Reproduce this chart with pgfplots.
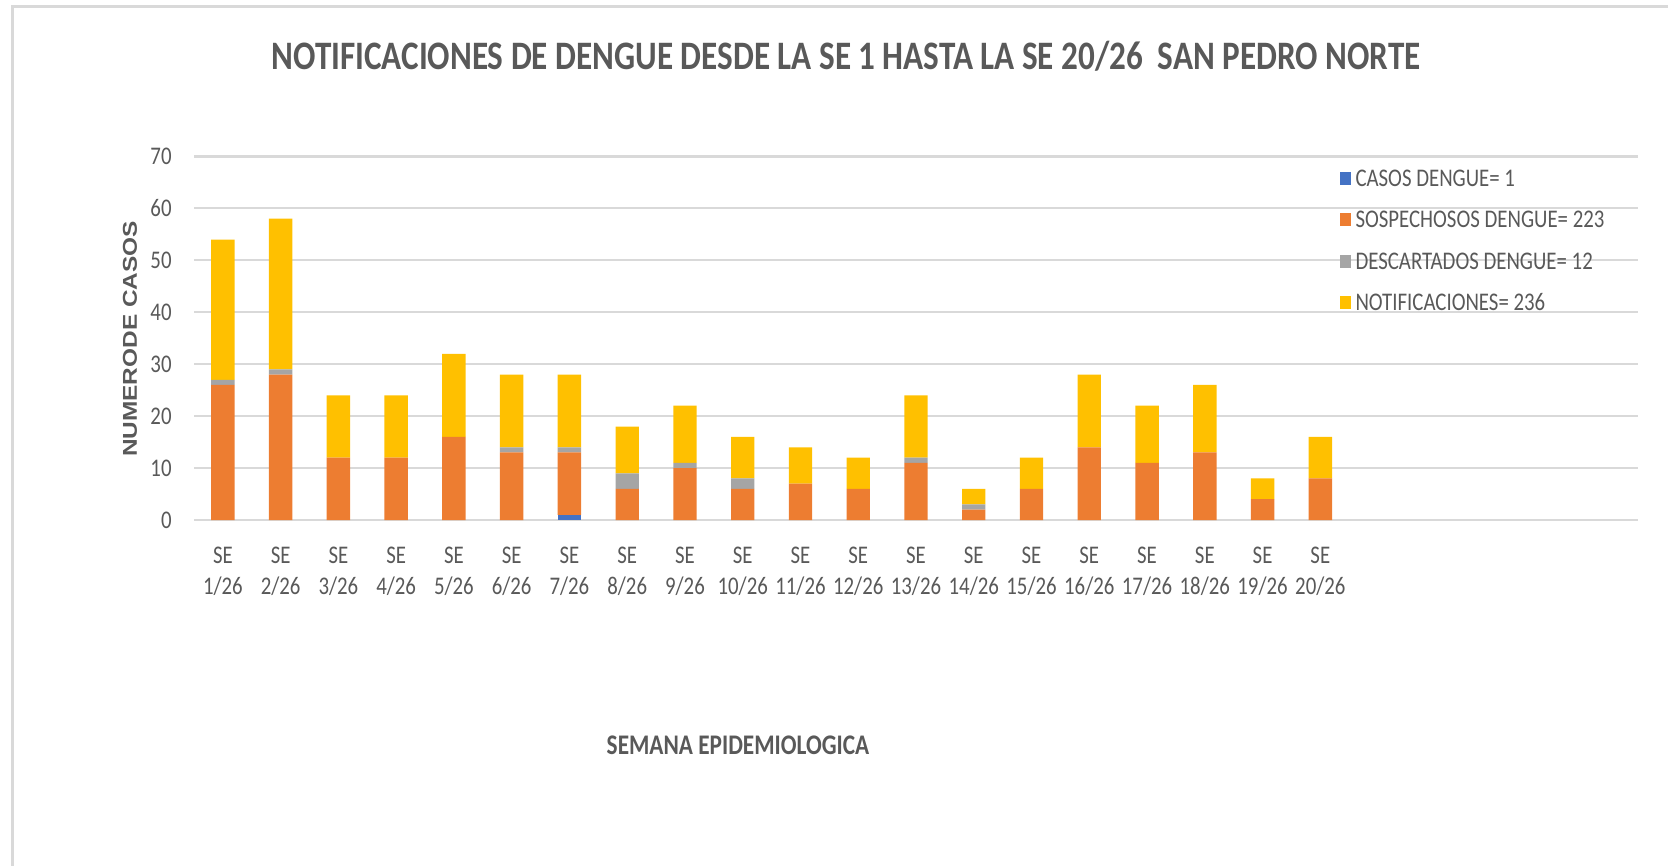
\documentclass[border=0pt]{standalone}
\usepackage{graphicx}
\usepackage{pgfplots}
\pgfplotsset{compat=1.18}
\usepackage{fontspec}
\setmainfont{Carlito}[FakeStretch=0.82]
\newfontfamily\arialfont{Liberation Sans}
\definecolor{cblue}{HTML}{4472C4}
\definecolor{corange}{HTML}{ED7D31}
\definecolor{cgray}{HTML}{A5A5A5}
\definecolor{cyellow}{HTML}{FFC000}
\definecolor{txt}{HTML}{595959}
\definecolor{gridc}{HTML}{D9D9D9}
\begin{document}
\begin{tikzpicture}
\path[use as bounding box] (0,0) rectangle (834pt,-433pt);
\draw[gridc, line width=1.5pt] (6pt,-440pt) -- (6pt,-3.5pt) -- (840pt,-3.5pt);
\begin{axis}[
  at={(97pt,-260pt)}, anchor=south west,
  scale only axis, width=722pt, height=181.8pt,
  ybar stacked, bar width=11.7pt,
  xmin=-0.5, xmax=24.5, ymin=0, ymax=70,
  ytick={0,10,...,70}, xtick={0,...,19},
  xticklabels={{SE\\1/26},{SE\\2/26},{SE\\3/26},{SE\\4/26},{SE\\5/26},{SE\\6/26},{SE\\7/26},{SE\\8/26},{SE\\9/26},{SE\\10/26},{SE\\11/26},{SE\\12/26},{SE\\13/26},{SE\\14/26},{SE\\15/26},{SE\\16/26},{SE\\17/26},{SE\\18/26},{SE\\19/26},{SE\\20/26}},
  axis line style={draw=none},
  major tick length=0pt,
  ymajorgrids, major grid style={draw=gridc, line width=1.1pt},
  tick label style={font=\fontsize{12.7}{15.5}\selectfont, text=txt},
  xticklabel style={align=center, inner sep=0pt, anchor=north, yshift=-13.5pt},
  yticklabel style={anchor=east, inner sep=0pt, xshift=-11pt},
  /pgf/number format/assume math mode=true,
  legend cell align=left,
  legend style={at={(0.793,0.9626)}, anchor=north west, draw=none, fill=none,
    inner sep=0pt, row sep=12.7pt, column sep=2.5pt,
    font=\fontsize{12.7}{15.5}\selectfont, text=txt,
    nodes={inner sep=0pt, text height=8pt, text depth=0pt}},
  legend image code/.code={\fill[#1] (0pt,-3.25pt) rectangle (5.5pt,3.25pt);},
]
\addplot[fill=cblue, draw=none] coordinates {(0,0) (1,0) (2,0) (3,0) (4,0) (5,0) (6,1) (7,0) (8,0) (9,0) (10,0) (11,0) (12,0) (13,0) (14,0) (15,0) (16,0) (17,0) (18,0) (19,0)};
\addplot[fill=corange, draw=none] coordinates {(0,26) (1,28) (2,12) (3,12) (4,16) (5,13) (6,12) (7,6) (8,10) (9,6) (10,7) (11,6) (12,11) (13,2) (14,6) (15,14) (16,11) (17,13) (18,4) (19,8)};
\addplot[fill=cgray, draw=none] coordinates {(0,1) (1,1) (2,0) (3,0) (4,0) (5,1) (6,1) (7,3) (8,1) (9,2) (10,0) (11,0) (12,1) (13,1) (14,0) (15,0) (16,0) (17,0) (18,0) (19,0)};
\addplot[fill=cyellow, draw=none] coordinates {(0,27) (1,29) (2,12) (3,12) (4,16) (5,14) (6,14) (7,9) (8,11) (9,8) (10,7) (11,6) (12,12) (13,3) (14,6) (15,14) (16,11) (17,13) (18,4) (19,8)};
\legend{CASOS DENGUE= 1, SOSPECHOSOS DENGUE= 223, DESCARTADOS DENGUE= 12, NOTIFICACIONES= 236}
\end{axis}
\node[anchor=base, text=txt, font=\fontsize{20.2}{24}\selectfont\bfseries] at (423pt,-35pt) {NOTIFICACIONES DE DENGUE DESDE LA SE 1 HASTA LA SE 20/26~ SAN PEDRO NORTE};
\node[anchor=base, text=txt, font=\fontsize{14.2}{17}\selectfont\bfseries] at (369pt,-377pt) {SEMANA EPIDEMIOLOGICA};
\node[rotate=90, text=txt] at (65pt,-169.5pt) {\scalebox{1}[0.82]{\arialfont\bfseries\fontsize{12.2}{14}\selectfont NUMERODE CASOS}};
\end{tikzpicture}
\end{document}
